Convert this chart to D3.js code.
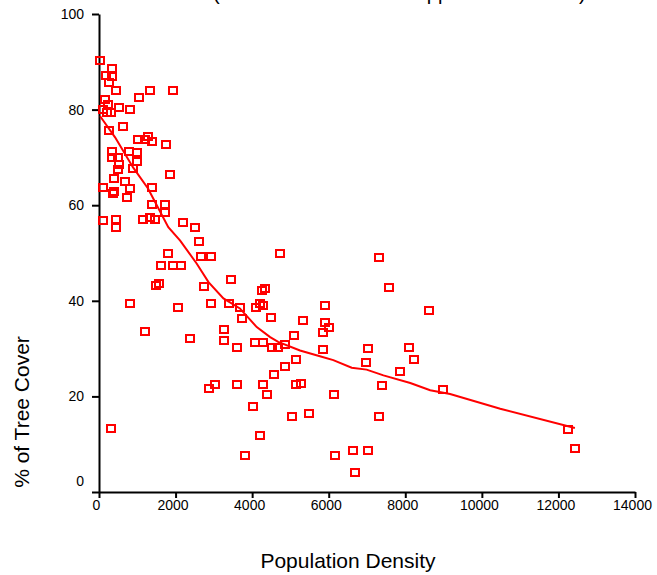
<!DOCTYPE html>
<html>
<head>
<meta charset="utf-8">
<script src="https://cdn.jsdelivr.net/npm/d3@7"></script>
<style>
  body { margin: 0; background: #fff; }
  svg { display: block; font-family: Arial, "Liberation Sans", sans-serif; }
  .axis-label { font-size: 21px; fill: #000; }
  .tick text { font-size: 14px; fill: #000; }
</style>
</head>
<body>
<svg id="chart"></svg>
<script>
// Population density (x) and % tree cover (y)
const density = [30, 340, 180, 340, 260, 440, 1320, 1930, 1040, 150, 230, 520, 100, 800, 320, 200,
  260, 620, 1020, 1270, 1210, 1380, 1740, 340, 780, 1000, 340, 490, 990, 530, 490, 900, 1850, 380,
  670, 110, 810, 1380, 400, 370, 720, 1380, 1730, 1720, 100, 440, 440, 1140, 1330, 1470, 2190, 2510,
  2600, 1790, 1610, 1930, 2140, 2660, 2930, 4730, 1500, 1560, 3440, 2740, 810, 2070, 2930, 3400,
  3680, 3730, 4100, 4200, 4290, 4250, 4340, 4490, 5320, 5900, 5900, 3270, 1200, 7310, 7570, 8610,
  6020, 5840, 5090, 4070, 4280, 4530, 4680, 4860, 5840, 7020, 8090, 8240, 5150, 4850, 6970, 7850,
  4560, 4280, 5150, 5280, 7380, 8980, 4390, 6130, 4020, 5480, 5030, 7310, 4200, 6160, 6630, 7020,
  6680, 12240, 12430, 310, 2870, 3030, 3600, 3810, 2380, 3270, 3600];
const treeCover = [90.2, 88.5, 87.2, 87.0, 85.6, 84.0, 84.1, 83.9, 82.5, 82.2, 81.0, 80.5, 80.1, 80.1, 79.4, 79.4,
  75.7, 76.4, 73.8, 74.3, 73.8, 73.4, 72.6, 71.3, 71.3, 71.1, 70.0, 70.0, 69.2, 68.5, 67.5, 67.7, 66.5, 65.6,
  65.0, 63.8, 63.5, 63.8, 62.8, 62.4, 61.6, 60.2, 60.1, 58.5, 56.8, 57.1, 55.4, 57.1, 57.5, 57.1, 56.3, 55.4,
  52.4, 50.0, 47.4, 47.4, 47.4, 49.2, 49.2, 50.0, 43.2, 43.6, 44.4, 42.9, 39.5, 38.7, 39.5, 39.5,
  38.7, 36.2, 38.7, 39.5, 39.1, 42.1, 42.5, 36.6, 35.8, 39.1, 35.4, 33.9, 33.6, 49.0, 42.7, 37.9,
  34.5, 33.3, 32.8, 31.2, 31.2, 30.3, 30.3, 30.8, 29.8, 30.1, 30.3, 27.8, 27.8, 26.2, 27.0, 25.3,
  24.6, 22.4, 22.4, 22.8, 22.2, 21.5, 20.5, 20.5, 17.8, 16.5, 15.7, 15.7, 11.9, 7.7, 8.6, 8.6,
  4.0, 13.1, 9.2, 13.3, 21.7, 22.5, 22.5, 7.7, 32.2, 31.7, 30.3];

// smoothed fit line
const fitDensity = [30, 420, 890, 1280, 1810, 2120, 2550, 2860, 3250, 3680, 4120, 4470, 4680, 5250,
  5770, 6120, 6600, 6990, 7430, 8130, 8650, 9170, 10480, 12430];
const fitCover = [78.6, 74.2, 67.9, 63.5, 55.4, 52.6, 47.8, 43.9, 40.5, 38.4, 34.5, 32.4, 31.4, 29.6,
  28.4, 27.6, 26.0, 25.6, 24.4, 22.8, 21.3, 20.5, 17.4, 13.4];

const xTicks = [0, 2000, 4000, 6000, 8000, 10000, 12000, 14000];
const yTicks = [0, 20, 40, 60, 80, 100];

const titleText = "(Tree Cover Data as Mapped in All Tracts)";

// dimensions
const margin = {top: 14, right: 22, bottom: 83, left: 99},
    width = 657 - margin.left - margin.right,
    height = 575 - margin.top - margin.bottom;

const root = d3.select("#chart")
    .attr("width", 657)
    .attr("height", 575);

const svg = root.append("g")
    .attr("transform", `translate(${margin.left},${margin.top})`);

// title, mostly cut off at the top (as in the original)
root.append("text")
    .attr("x", 213)
    .attr("y", 0)
    .attr("font-size", 20)
    .text(titleText);

const x = d3.scaleLinear().domain([0, 14000]).range([0, width]);
const y = d3.scaleLinear().domain([0, 100]).range([height, 0]);

// X axis
const xAxis = svg.append("g")
    .attr("transform", `translate(0,${height})`)
    .call(d3.axisBottom(x).tickValues(xTicks).tickSize(6).tickSizeOuter(0).tickPadding(2)
      .tickFormat(d3.format("d")));
xAxis.selectAll("text").attr("dx", -3);

// Y axis
const yAxis = svg.append("g")
    .call(d3.axisLeft(y).tickValues(yTicks).tickSize(7).tickSizeOuter(0).tickPadding(8));
yAxis.selectAll(".tick text").filter(d => d === 0).attr("dy", "-0.45em");

svg.selectAll(".domain, .tick line")
    .attr("stroke", "#000")
    .attr("stroke-width", 2);

// axis titles
root.append("text")
    .attr("class", "axis-label")
    .attr("text-anchor", "middle")
    .attr("x", 348)
    .attr("y", 568)
    .text("Population Density");

root.append("text")
    .attr("class", "axis-label")
    .attr("text-anchor", "middle")
    .attr("transform", "translate(22,412) rotate(-90)")
    .attr("dy", "0.35em")
    .text("% of Tree Cover");

// fit line
const fit = fitDensity.map((d, i) => [d, fitCover[i]]);
svg.append("path")
    .datum(fit)
    .attr("fill", "none")
    .attr("stroke", "#ff0000")
    .attr("stroke-width", 2)
    .attr("d", d3.line().x(d => x(d[0])).y(d => y(d[1])));

// points
const points = density.map((d, i) => ({density: d, cover: treeCover[i]}));
svg.selectAll("rect.pt")
    .data(points)
    .enter()
    .append("rect")
    .attr("class", "pt")
    .attr("x", d => x(d.density) - 4)
    .attr("y", d => y(d.cover) - 3.5)
    .attr("width", 8)
    .attr("height", 7)
    .attr("fill", "none")
    .attr("stroke", "#ff0000")
    .attr("stroke-width", 2)
    .attr("shape-rendering", "crispEdges");
</script>
</body>
</html>
